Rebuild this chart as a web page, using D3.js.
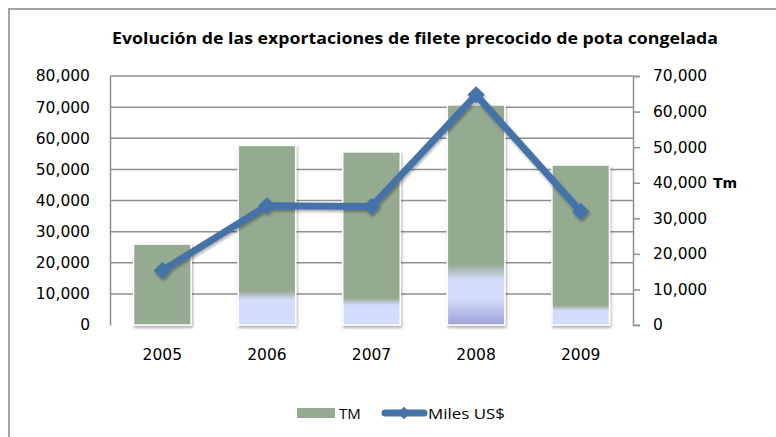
<!DOCTYPE html>
<html>
<head>
<meta charset="utf-8">
<script src="https://cdn.jsdelivr.net/npm/d3@7"></script>
<style>
  body { margin: 0; background: #fff; }
  text { font-family: "DejaVu Sans", Verdana, sans-serif; fill: #000; }
</style>
</head>
<body>
<div id="chart"></div>
<script>
// data
const YEARS = ["2005", "2006", "2007", "2008", "2009"];
const TM = [26000, 57700, 55600, 70700, 51400];
const MILES_USD = [15300, 33500, 33300, 64700, 31900];
// light blue fade at the foot of each bar (left axis units)
const TM_FADE = [0, 9500, 7500, 17000, 5500];
const LEFT_TICKS = [0, 10000, 20000, 30000, 40000, 50000, 60000, 70000, 80000];
const RIGHT_TICKS = [0, 10000, 20000, 30000, 40000, 50000, 60000, 70000];

const W = 776, H = 437;
var margin = { top: 76, right: 143, bottom: 112, left: 110 },
    width = W - margin.left - margin.right,
    height = H - margin.top - margin.bottom;

var root = d3.select("#chart").append("svg")
    .attr("width", W)
    .attr("height", H);

var defs = root.append("defs");
var shadow = defs.append("filter").attr("id", "shadow")
    .attr("x", "-30%").attr("y", "-30%").attr("width", "160%").attr("height", "160%");
shadow.append("feGaussianBlur").attr("in", "SourceAlpha").attr("stdDeviation", 1.5);
shadow.append("feOffset").attr("dx", 1).attr("dy", 1.5).attr("result", "ob");
shadow.append("feComponentTransfer").append("feFuncA").attr("type", "linear").attr("slope", 0.35);
var merge = shadow.append("feMerge");
merge.append("feMergeNode");
merge.append("feMergeNode").attr("in", "SourceGraphic");

// chart frame
root.append("rect")
    .attr("x", 9).attr("y", 9)
    .attr("width", W).attr("height", H)
    .style("fill", "none")
    .style("stroke", "#a3a3a3")
    .style("stroke-width", 2);

// title
root.append("text")
    .attr("x", 112).attr("y", 44)
    .attr("textLength", 606)
    .attr("lengthAdjust", "spacingAndGlyphs")
    .style("font-family", "'Open Sans', sans-serif")
    .style("font-weight", "bold")
    .style("font-size", "16px")
    .text("Evolución de las exportaciones de filete  precocido de pota congelada");

var svg = root.append("g")
    .attr("transform", "translate(" + margin.left + "," + margin.top + ")");

var x = d3.scaleBand().domain(YEARS).range([0, width]).paddingInner(0.45).paddingOuter(0.225);
var yL = d3.scaleLinear().domain([0, 80000]).range([height, 0]);
var yR = d3.scaleLinear().domain([0, 70000]).range([height, 0]);
var fmt = d3.format(",");

// gridlines
svg.selectAll("line.grid")
    .data(LEFT_TICKS.slice(1))
    .enter().append("line")
    .attr("class", "grid")
    .attr("x1", 0).attr("x2", width)
    .attr("y1", d => yL(d)).attr("y2", d => yL(d))
    .style("stroke", "#8f8f8f")
    .style("stroke-width", 1.5);

// left axis
var axL = svg.append("g")
    .call(d3.axisLeft(yL).tickValues(LEFT_TICKS).tickFormat(fmt).tickSize(0).tickPadding(20));
axL.select(".domain").style("stroke", "#8f8f8f").style("stroke-width", 1.5);
axL.selectAll("text").style("font-size", "15.5px").style("font-family", "'DejaVu Sans', sans-serif");

// right axis
var axR = svg.append("g")
    .attr("transform", "translate(" + width + ",0)")
    .call(d3.axisRight(yR).tickValues(RIGHT_TICKS).tickFormat(fmt).tickSize(7).tickPadding(13));
axR.select(".domain").style("stroke", "#8f8f8f").style("stroke-width", 1.5);
axR.selectAll(".tick line").style("stroke", "#8f8f8f").style("stroke-width", 1.5);
axR.selectAll("text").style("font-size", "15.5px").style("font-family", "'DejaVu Sans', sans-serif");

root.append("text")
    .attr("x", 713).attr("y", 188)
    .style("font-weight", "bold")
    .style("font-size", "14px")
    .text("Tm");

// bar gradients
var grads = defs.selectAll("linearGradient")
    .data(YEARS.map((d, i) => ({ year: d, tm: TM[i], fade: TM_FADE[i] })))
    .enter().append("linearGradient")
    .attr("id", d => "g" + d.year)
    .attr("gradientUnits", "userSpaceOnUse")
    .attr("x1", 0).attr("x2", 0)
    .attr("y1", yL(0)).attr("y2", d => yL(d.tm));
grads.each(function (d) {
    var g = d3.select(this);
    if (d.fade === 0) {
        g.append("stop").attr("offset", 0).attr("stop-color", "#94aa91");
        return;
    }
    var f = d.fade / d.tm;
    g.append("stop").attr("offset", 0).attr("stop-color", d.fade > 12000 ? "#9da2d6" : "#d3dcfc");
    g.append("stop").attr("offset", f * 0.5).attr("stop-color", "#d3dcfc");
    g.append("stop").attr("offset", f * 0.85).attr("stop-color", "#d3dcfc");
    g.append("stop").attr("offset", f * 1.15).attr("stop-color", "#94aa91");
    g.append("stop").attr("offset", 1).attr("stop-color", "#94aa91");
});

// bars
svg.selectAll("rect.bar")
    .data(YEARS)
    .enter().append("rect")
    .attr("class", "bar")
    .attr("x", d => x(d))
    .attr("width", x.bandwidth())
    .attr("y", (d, i) => yL(TM[i]))
    .attr("height", (d, i) => yL(0) - yL(TM[i]))
    .style("fill", d => "url(#g" + d + ")")
    .style("stroke", "#fff")
    .style("stroke-width", 1.5)
    .attr("filter", "url(#shadow)");

// category labels
svg.selectAll("text.cat")
    .data(YEARS)
    .enter().append("text")
    .attr("class", "cat")
    .attr("x", d => x(d) + x.bandwidth() / 2)
    .attr("y", height + 35)
    .attr("text-anchor", "middle")
    .style("font-size", "15.5px")
    .text(d => d);

// line series
const LINE_COLOR = "#4572a8";
var cx = d => x(d) + x.bandwidth() / 2;
var lineG = svg.append("g").attr("filter", "url(#shadow)");
lineG.append("path")
    .datum(YEARS)
    .attr("d", d3.line().x(cx).y((d, i) => yR(MILES_USD[i])))
    .style("fill", "none")
    .style("stroke", LINE_COLOR)
    .style("stroke-width", 7)
    .style("stroke-linejoin", "round");
lineG.selectAll("path.mk")
    .data(YEARS)
    .enter().append("path")
    .attr("class", "mk")
    .attr("transform", (d, i) => "translate(" + cx(d) + "," + yR(MILES_USD[i]) + ")")
    .attr("d", d3.symbol().type(d3.symbolSquare).size(150))
    .attr("transform", (d, i) => "translate(" + cx(d) + "," + yR(MILES_USD[i]) + ") rotate(45)")
    .style("fill", LINE_COLOR);

// legend
var leg = root.append("g").attr("transform", "translate(0,413)");
leg.append("rect")
    .attr("x", 297).attr("y", -5).attr("width", 38).attr("height", 10)
    .style("fill", "#94aa91");
leg.append("text")
    .attr("x", 339).attr("y", 6)
    .style("font-family", "'Open Sans', sans-serif")
    .style("font-size", "15px")
    .text("TM");
leg.append("line")
    .attr("x1", 385).attr("x2", 424).attr("y1", 0).attr("y2", 0)
    .style("stroke", LINE_COLOR)
    .style("stroke-width", 7)
    .style("stroke-linecap", "round");
leg.append("path")
    .attr("transform", "translate(404,0) rotate(45)")
    .attr("d", d3.symbol().type(d3.symbolSquare).size(80))
    .style("fill", LINE_COLOR);
leg.append("text")
    .attr("x", 428).attr("y", 6)
    .attr("textLength", 77)
    .attr("lengthAdjust", "spacingAndGlyphs")
    .style("font-family", "'Open Sans', sans-serif")
    .style("font-size", "15px")
    .text("Miles US$");
</script>
</body>
</html>
